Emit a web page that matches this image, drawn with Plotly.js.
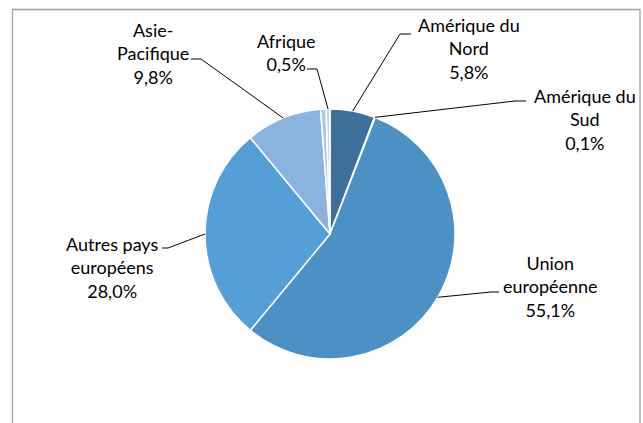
<!DOCTYPE html>
<html>
<head>
<meta charset="utf-8">
<script src="https://cdn.plot.ly/plotly-3.0.1.min.js"></script>
<style>html,body{margin:0;padding:0;background:#fff}#chart{width:643px;height:423px}</style>
</head>
<body>
<div id="chart"></div>
<script>
// ---- data (clockwise from 12 o'clock) ----
const categories = ["Amérique du Nord", "Amérique du Sud", "Union européenne", "Autres pays européens", "Asie-Pacifique", "Non ventilé", "Afrique"];
const labelTexts = ["Amérique du<br>Nord", "Amérique du<br>Sud", "Union<br>européenne", "Autres pays<br>européens", "Asie-<br>Pacifique", "", "Afrique"];
const shares = [5.8, 0.1, 55.1, 28.0, 9.8, 0.7, 0.5];
const sliceColors = ["#3d6f9a", "#4a8fc4", "#4b91c6", "#559fd8", "#8ab4df", "#a9c8e9", "#c3d8ef"];

// ---- layout geometry (pixels) ----
const W = 643, H = 423;
const CX = 330, CY = 234, R = 125;
// label centre, elbow, end of leader line, per slice (null = no label)
const labelLayout = [
  {x: 469, y: 48.5, elbow: [400, 34], end: [411, 34]},
  {x: 585, y: 120, elbow: [515, 101], end: [526, 101]},
  {x: 550, y: 286, elbow: [491, 292], end: [499, 292]},
  {x: 112, y: 267, elbow: [168, 248], end: [162, 248]},
  {x: 153, y: 53.5, elbow: [201, 59], end: [191, 59]},
  null,
  {x: 286.5, y: 52.5, elbow: [317, 69], end: [307, 69]}
];

const px = v => v / W;
const py = v => 1 - v / H;
const fmt = v => v.toFixed(1).replace('.', ',') + '%';

const total = shares.reduce((a, b) => a + b, 0);
const annotations = [];
const shapes = [];
let cum = 0;
shares.forEach((v, i) => {
  const mid = (cum + v / 2) / total;
  cum += v;
  const L = labelLayout[i];
  if (!L) return;
  const ang = mid * 2 * Math.PI;
  const sx = CX + R * Math.sin(ang), sy = CY - R * Math.cos(ang);
  annotations.push({
    xref: 'paper', yref: 'paper', x: px(L.x), y: py(L.y),
    xanchor: 'center', yanchor: 'middle', showarrow: false, align: 'center',
    text: labelTexts[i] + '<br>' + fmt(v),
    font: {family: 'Lato, "Open Sans", sans-serif', size: 18, color: '#000'}
  });
  shapes.push({
    type: 'path', xref: 'paper', yref: 'paper',
    path: `M ${px(sx)} ${py(sy)} L ${px(L.elbow[0])} ${py(L.elbow[1])} L ${px(L.end[0])} ${py(L.end[1])}`,
    line: {color: '#000', width: 1}
  });
});
// chart frame
shapes.push({type: 'rect', xref: 'paper', yref: 'paper', x0: px(12.5), x1: px(640), y0: py(440), y1: py(9.5),
  line: {color: '#a0a0a0', width: 1.3}, fillcolor: 'rgba(0,0,0,0)'});

const trace = {
  type: 'pie',
  labels: categories,
  values: shares,
  sort: false,
  direction: 'clockwise',
  rotation: 0,
  textinfo: 'none',
  hoverinfo: 'label+percent',
  marker: {colors: sliceColors, line: {color: '#ffffff', width: 1.5}},
  domain: {x: [px(CX - R), px(CX + R)], y: [py(CY + R), py(CY - R)]},
  showlegend: false
};

Plotly.newPlot('chart', [trace], {
  width: W, height: H,
  margin: {l: 0, r: 0, t: 0, b: 0},
  paper_bgcolor: '#fff',
  showlegend: false,
  annotations: annotations,
  shapes: shapes
}, {displayModeBar: false, staticPlot: true});
</script>
</body>
</html>
